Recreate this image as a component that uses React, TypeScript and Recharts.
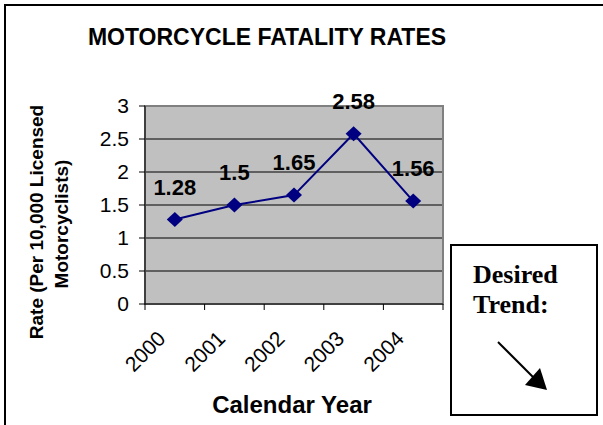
import React from "react";
import { CartesianGrid, LabelList, Line, LineChart, ReferenceArea, XAxis, YAxis } from "recharts";

const years = ["2000", "2001", "2002", "2003", "2004"];
const rates = [1.28, 1.5, 1.65, 2.58, 1.56];
const yTicks = [0, 0.5, 1, 1.5, 2, 2.5, 3];
const gridValues = [0.5, 1, 1.5, 2, 2.5];

// tick marks sit between the categories, like Excel does
const xBoundaries = years.map((_, i) => i - 0.5).concat(years.length - 0.5);
const data = years.map((year, i) => ({ idx: i, year, rate: rates[i] }));

const W = 603;
const H = 425;
const margin = { top: 106, right: 160, bottom: 61, left: 85 };
const plotWidth = W - margin.left - 60 - margin.right;
const band = plotWidth / years.length;
const sans = "Arial, 'Liberation Sans', sans-serif";
const serif = "'Times New Roman', 'Liberation Serif', serif";

function YearTick(props: any) {
  const { x, y, payload } = props;
  const i = Math.round(payload.value + 0.5);
  if (i < 0 || i >= years.length) return null;
  const ax = x + band / 2 - 8;
  const ay = y + 28;
  return (
    <text x={ax} y={ay} textAnchor="end" fontSize={21} fontFamily={sans} fill="#000" transform={`rotate(-45 ${ax} ${ay})`}>
      {years[i]}
    </text>
  );
}

function Diamond(props: any) {
  const { cx, cy } = props;
  if (cx == null || cy == null) return null;
  return <polygon points={`${cx},${cy - 7.5} ${cx + 8},${cy} ${cx},${cy + 7.5} ${cx - 8},${cy}`} fill="#000080" />;
}

function ValueLabel(props: any) {
  const { x, y, value } = props;
  return (
    <text x={x} y={y - 25} textAnchor="middle" fontSize={22} fontWeight="bold" fontFamily={sans} fill="#000">
      {value}
    </text>
  );
}

export default function App() {
  return (
    <div style={{ position: "relative", width: W, height: H, background: "#fff" }}>
      <style>{"body{margin:0}"}</style>
      <LineChart width={W} height={H} data={data} margin={margin}>
        <CartesianGrid
          vertical={false}
          horizontalValues={gridValues}
          stroke="#000"
          fill="#c0c0c0"
          fillOpacity={1}
        />
        <ReferenceArea x1={-0.5} x2={4.5} y1={0} y2={3} fill="none" fillOpacity={0} stroke="#808080" strokeWidth={2} />
        <XAxis
          type="number"
          dataKey="idx"
          domain={[-0.5, 4.5]}
          ticks={xBoundaries}
          interval={0}
          height={60}
          tickSize={6}
          stroke="#000"
          tickLine={{ stroke: "#000" }}
          axisLine={{ stroke: "#000" }}
          tick={<YearTick />}
        />
        <YAxis
          domain={[0, 3]}
          ticks={yTicks}
          width={60}
          tickSize={6}
          tickMargin={10}
          stroke="#000"
          tickLine={{ stroke: "#000" }}
          axisLine={{ stroke: "#000" }}
          tick={{ fill: "#000", fontSize: 21, fontFamily: sans }}
        />
        <Line
          type="linear"
          dataKey="rate"
          stroke="#000080"
          strokeWidth={2}
          dot={<Diamond />}
          activeDot={false}
          isAnimationActive={false}
        >
          <LabelList dataKey="rate" content={<ValueLabel />} />
        </Line>
      </LineChart>
      <svg width={W} height={H} style={{ position: "absolute", left: 0, top: 0, pointerEvents: "none" }}>
        <rect x={5} y={5} width={700} height={500} fill="none" stroke="#000" strokeWidth={2} />
        <text x={267} y={45} textAnchor="middle" fontSize={23} fontWeight="bold" fontFamily={sans}>
          MOTORCYCLE FATALITY RATES
        </text>
        <text x={43} y={222} textAnchor="middle" fontSize={19} fontWeight="bold" fontFamily={sans} transform="rotate(-90 43 222)">
          Rate (Per 10,000 Licensed
        </text>
        <text x={68} y={224} textAnchor="middle" fontSize={19} fontWeight="bold" fontFamily={sans} transform="rotate(-90 68 224)">
          Motorcyclists)
        </text>
        <text x={292} y={413} textAnchor="middle" fontSize={24} fontWeight="bold" fontFamily={sans}>
          Calendar Year
        </text>
        <rect x={451} y={245} width={146} height={170} fill="#fff" stroke="#000" strokeWidth={2} />
        <text x={473} y={283} fontSize={26} fontWeight="bold" fontFamily={serif}>
          Desired
        </text>
        <text x={473} y={313} fontSize={26} fontWeight="bold" fontFamily={serif}>
          Trend:
        </text>
        <line x1={498} y1={342} x2={534} y2={378} stroke="#000" strokeWidth={2} />
        <polygon points="525,385 540,368 547,390" fill="#000" />
      </svg>
    </div>
  );
}
